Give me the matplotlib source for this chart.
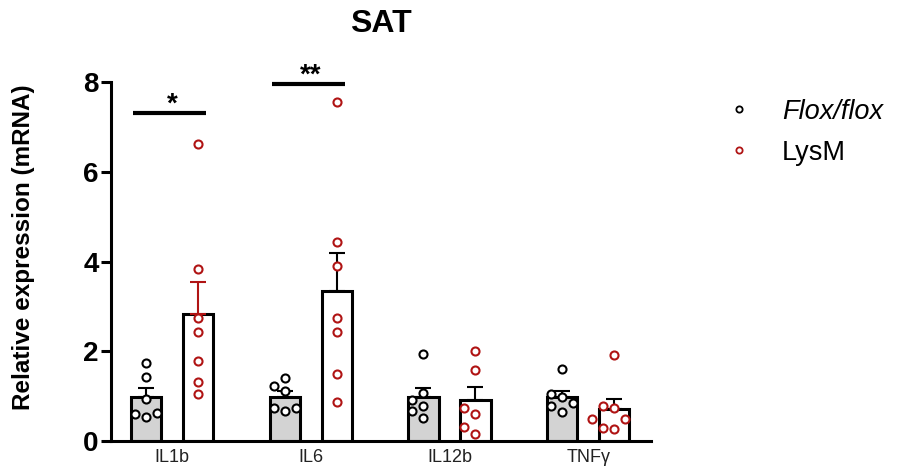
import numpy as np
import matplotlib.pyplot as plt
from matplotlib.lines import Line2D

plt.rcParams['font.family'] = ['Liberation Sans', 'DejaVu Sans']

genes = ['IL1b', 'IL6', 'IL12b', 'TNFγ']
groups = ['Flox/flox', 'LysM']

# individual animals
flox_vals = [
    [1.74, 1.43, 0.93, 0.62, 0.60, 0.54],
    [1.41, 1.23, 1.12, 0.74, 0.73, 0.67],
    [1.94, 1.07, 0.92, 0.78, 0.67, 0.51],
    [1.60, 1.04, 0.97, 0.85, 0.78, 0.65],
]
lysm_vals = [
    [6.61, 3.84, 2.75, 2.44, 1.79, 1.32, 1.05],
    [7.55, 4.44, 3.89, 2.75, 2.44, 1.50, 0.87],
    [2.01, 1.59, 0.74, 0.61, 0.31, 0.16],
    [1.92, 0.78, 0.74, 0.50, 0.48, 0.29, 0.27],
]
# significance marks: (gene index, label, bar height)
sig = [(0, '*', 7.3), (1, '**', 7.95)]

red = '#b01414'

fig = plt.figure(figsize=(9.01, 4.71), dpi=100)
ax = fig.add_axes([111/901, 1 - 441/471, 540/901, 359/471])
ax.set_xlim(-0.44, 3.453)
ax.set_ylim(0, 8)


def swarm(vals, center, d=11):
    # simple beeswarm in pixel space so circles don't overlap
    p0 = ax.transData.transform((0, 0))
    p1 = ax.transData.transform((1, 1))
    sx, sy = p1[0] - p0[0], p1[1] - p0[1]
    placed = []
    xs = np.zeros(len(vals))
    for i in np.argsort(vals):
        y = vals[i] * sy
        for k in [0, -1, 1, -2, 2, -3, 3]:
            x = k * d
            if all((x - px)**2 + (y - py)**2 >= d * d for px, py in placed):
                break
        placed.append((x, y))
        xs[i] = center + x / sx
    return xs


x = np.arange(len(genes))
off = 0.1875
width = 0.218
series = [
    (flox_vals, -off, '#d3d3d3', 'black', ['black'] * 4),
    (lysm_vals, off, 'white', red, [red, 'black', 'black', 'black']),
]

for vals, dx, fc, mc, ecs in series:
    means = [np.mean(v) for v in vals]
    sems = [np.std(v, ddof=1) / np.sqrt(len(v)) for v in vals]
    ax.bar(x + dx, means, width=width, color=fc, edgecolor='black',
           linewidth=2.2, zorder=2)
    for i in range(len(genes)):
        ax.errorbar(x[i] + dx, means[i], yerr=[[0], [sems[i]]], fmt='none',
                    ecolor=ecs[i], elinewidth=1.5, capsize=6, capthick=1.5,
                    zorder=3)
        xs = swarm(vals[i], x[i] + dx)
        ax.plot(xs, vals[i], 'o', ms=5.8, mfc='white', mec=mc, mew=1.5,
                zorder=4, clip_on=False)

for i, label, h in sig:
    ax.plot([x[i] - 0.28, x[i] + 0.245], [h, h], color='black', lw=3,
            clip_on=False, solid_capstyle='butt')
    ax.text(x[i], h - 0.1, label, ha='center', va='bottom',
            fontsize=20, fontweight='bold', clip_on=False)

ax.spines['top'].set_visible(False)
ax.spines['right'].set_visible(False)
ax.spines['left'].set_linewidth(2.2)
ax.spines['bottom'].set_linewidth(2.2)

ax.set_yticks([0, 2, 4, 6, 8])
ax.tick_params(axis='y', length=7, width=2.2, pad=2, labelsize=20)
for t in ax.get_yticklabels():
    t.set_fontweight('bold')
ax.set_xticks(x)
ax.set_xticklabels(genes, fontsize=13, color='#222222')
ax.tick_params(axis='x', length=0, pad=6)

ax.set_ylabel('Relative expression (mRNA)', fontsize=17.5, fontweight='bold')
ax.yaxis.set_label_coords(-0.14, 0.54)
ax.set_title('SAT', fontsize=23, fontweight='bold', pad=36)

handles = [Line2D([], [], marker='o', ls='', ms=4.5, mfc='white', mec=c, mew=1.3)
           for c in ['black', red]]
leg = fig.legend(handles, groups, loc='upper left', bbox_to_anchor=(0.805, 0.79),
                 frameon=False, fontsize=19.5, handlelength=1, handletextpad=1.1,
                 labelspacing=0.55, borderpad=0, borderaxespad=0)
leg.get_texts()[0].set_style('italic')

fig.savefig('out.png', dpi=100)
